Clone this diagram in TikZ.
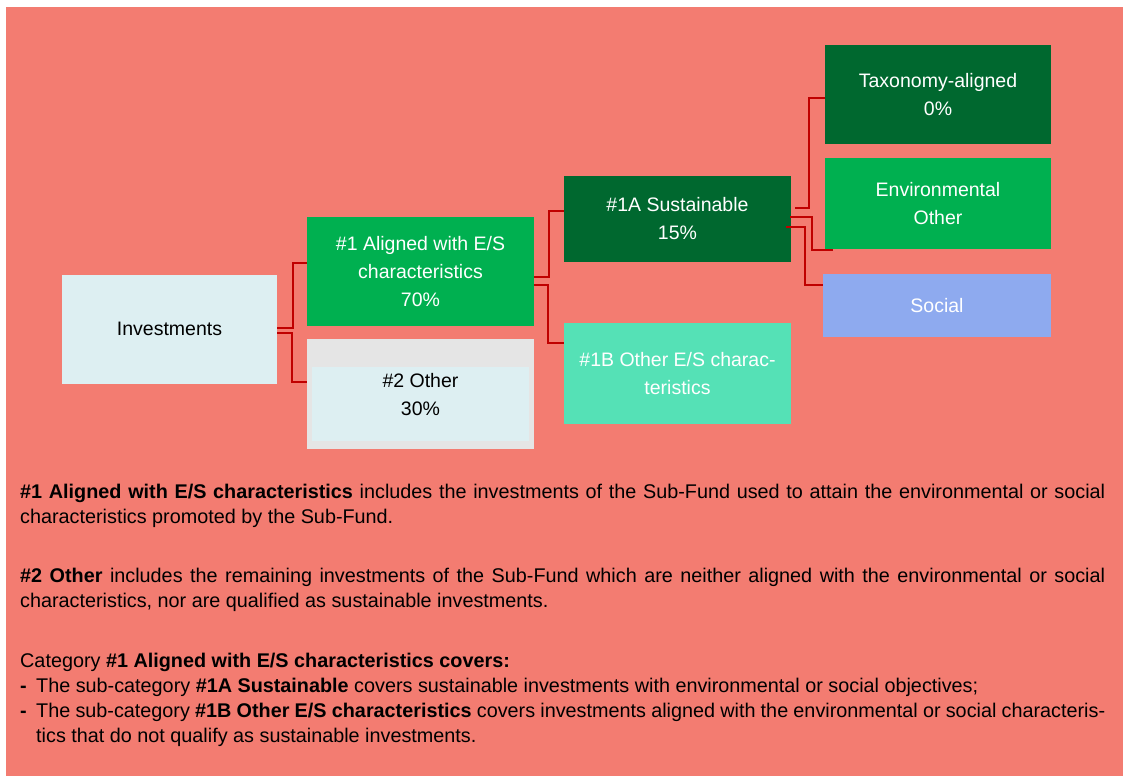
\documentclass[tikz,border=0pt]{standalone}
\usepackage{xcolor}
\usepackage{fontspec}
\setmainfont{Liberation Sans}
\usepackage{tikz}
\usetikzlibrary{positioning, calc}

\definecolor{bgsalmon}{HTML}{F37C71}
\definecolor{linkred}{HTML}{C00000}
\definecolor{esgreen}{HTML}{00B050}
\definecolor{darkgreen}{HTML}{00682F}
\definecolor{paleblue}{HTML}{DDEFF2}
\definecolor{palegray}{HTML}{E5E5E5}
\definecolor{mint}{HTML}{55E1B6}
\definecolor{socialblue}{HTML}{8EAAEF}

\newcommand{\itemdash}{\makebox[0pt][r]{\makebox[16pt][l]{\textbf{-}}}}

\begin{document}
\begin{tikzpicture}[x=1pt, y=-1pt,
        catbox/.style={rectangle, inner sep=0pt, minimum width=227pt, align=center, font=\fontsize{19.5}{28}\selectfont},
        invbox/.style={catbox, fill=paleblue, text=black, minimum width=215pt, minimum height=109pt},
        greenbox/.style={catbox, fill=esgreen, text=white},
        darkbox/.style={catbox, fill=darkgreen, text=white},
        otherbox/.style={catbox, fill=palegray, text=black, path picture={\fill[paleblue] ([xshift=5pt, yshift=8pt]path picture bounding box.south west) rectangle ([xshift=-5pt, yshift=-28pt]path picture bounding box.north east);}},
        link/.style={draw=linkred, line width=2pt},
        bodytext/.style={anchor=base west, inner sep=0pt, text width=1085pt, align=justify, font=\fontsize{19.8}{25}\selectfont},
        itemtext/.style={bodytext, text width=1069pt}
    ]

    % Page
    \useasboundingbox (0,0) rectangle (1123,776);
    \fill[white] (0,0) rectangle (1123,776);
    \fill[bgsalmon] (6,7) rectangle (1123,776);

    % Investments
    \node (inv) [invbox] at (169.5,329) {Investments};

    % #1 and #2
    \node (aligned) [greenbox, minimum height=109pt] at (420.5,271.5) {\#1 Aligned with E/S\\characteristics\\70\%};
    \node (other) [otherbox, minimum height=110pt, below=13pt of aligned] {\#2 Other\\30\%};

    % #1A and #1B
    \node (sus) [darkbox, minimum height=86pt] at (677.5,219) {\#1A Sustainable\\15\%};
    \node (oth1b) [catbox, fill=mint, text=white, minimum height=101pt, below=61pt of sus] {\#1B Other E/S charac-\\teristics};

    % Sub-categories of #1A
    \node (tax) [darkbox, minimum width=226pt, minimum height=99pt] at (938,94.5) {Taxonomy-aligned\\0\%};
    \node (env) [greenbox, minimum width=226pt, minimum height=91pt, below=14pt of tax] {Environmental\\Other};
    \node (social) [catbox, fill=socialblue, text=white, minimum width=228pt, minimum height=63pt, below=24pt of env, xshift=-1pt] {Social};

    % Edges
    \draw[link] ($(inv.east)+(0,-1)$) -| ($(aligned.west)+(-14,-8.5)$) -- ($(aligned.west)+(0,-8.5)$);
    \draw[link] ($(inv.east)+(0,4)$) -| ($(other.west)+(-15,-12)$) -- ($(other.west)+(0,-12)$);

    \draw[link] ($(aligned.east)+(0,5.5)$) -| ($(sus.west)+(-15,-8)$) -- ($(sus.west)+(0,-8)$);
    \draw[link] ($(aligned.east)+(0,13.5)$) -| ($(oth1b.west)+(-16,-30.5)$) -- ($(oth1b.west)+(0,-30.5)$);

    \draw[link] ($(sus.east)+(4,-11)$) -| ($(tax.west)+(-16,3.5)$) -- ($(tax.west)+(0,3.5)$);
    \draw[link] ($(sus.east)+(-1,-2)$) -| ($(env.south west)+(-13,0)$) -- ($(env.south west)+(8,0)$);
    \draw[link] ($(sus.east)+(-5,8)$) -| ($(social.west)+(-18,-20.5)$) -- ($(social.west)+(0,-20.5)$);

    % Notes
    \node (note1) [bodytext] at (20,498) {\textbf{\#1 Aligned with E/S characteristics} includes the investments of the Sub-Fund used to attain the environmental or social\linebreak characteristics promoted by the Sub-Fund.};
    \node (note2) [bodytext] at (20,582) {\textbf{\#2 Other} includes the remaining investments of the Sub-Fund which are neither aligned with the environmental or social\linebreak characteristics, nor are qualified as sustainable investments.};
    \node (cat) [bodytext] at (20,667) {Category \textbf{\#1 Aligned with E/S characteristics covers:}};
    \node (item1) [itemtext] at (36,692) {\itemdash The sub-category \textbf{\#1A Sustainable} covers sustainable investments with environmental or social objectives;};
    \node (item2) [itemtext] at (36,717) {\itemdash The sub-category \textbf{\#1B Other E/S characteristics} covers investments aligned with the environmental or social characteris-\linebreak tics that do not qualify as sustainable investments.};

\end{tikzpicture}
\end{document}
